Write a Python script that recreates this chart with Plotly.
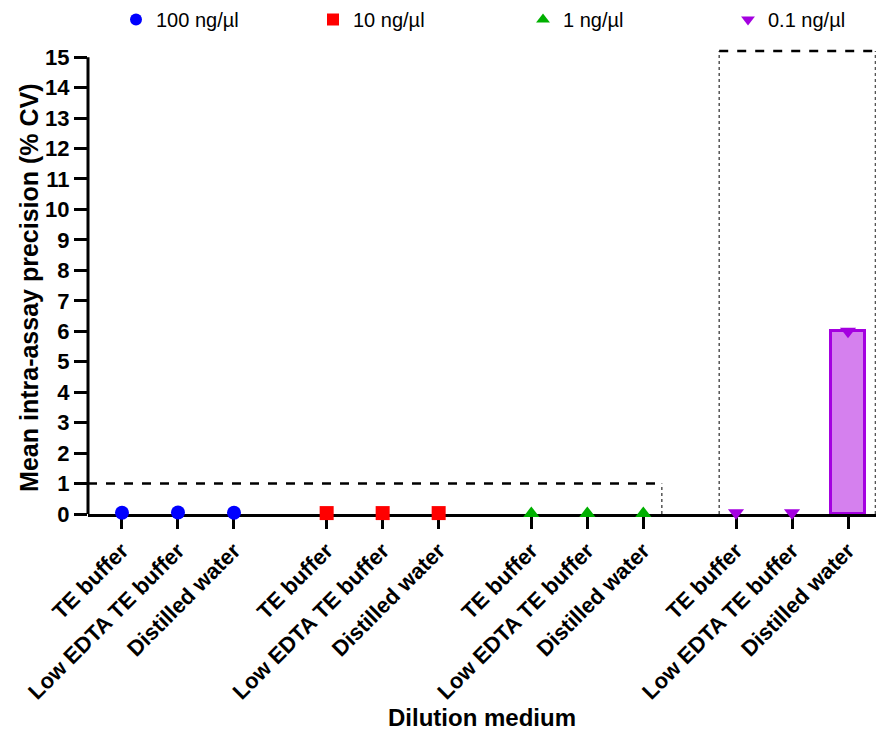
import plotly.graph_objects as go

# Concentration groups and dilution media
concentrations = ["100 ng/µl", "10 ng/µl", "1 ng/µl", "0.1 ng/µl"]
media = ["TE buffer", "Low EDTA TE buffer", "Distilled water"]

# Mean intra-assay precision (% CV) per concentration, in media order
cv_100 = [0.04, 0.05, 0.04]
cv_10 = [0.03, 0.03, 0.03]
cv_1 = [0.02, 0.02, 0.02]
cv_01 = [0.04, 0.04, 6.0]
series_values = [cv_100, cv_10, cv_1, cv_01]

# Acceptance limits (% CV) drawn as dashed reference boxes
limit_high_conc = 1.0
limit_low_conc = 15.2

y_ticks = list(range(0, 16))

colors = ["#0000FF", "#FF0000", "#00B000", "#A400E0"]
symbols = ["circle", "square", "triangle-up", "triangle-down"]
bar_fill = "#D580EE"

GROUP_STRIDE = 3.655
font_family = "Liberation Sans, Arial, sans-serif"

# Left edge (px) of each legend entry across the top strip
legend_left_px = [116, 313, 523, 728]


def positions(g):
    return [g * GROUP_STRIDE + i for i in range(len(media))]


fig = go.Figure()

# Bars for the visible (non-zero) means of the lowest concentration
pos_low = positions(3)
bar_y = [v if v >= 1 else None for v in cv_01]
fig.add_trace(go.Bar(
    x=pos_low, y=bar_y, width=0.62,
    marker=dict(color=bar_fill, line=dict(color=colors[3], width=3)),
    showlegend=False, hoverinfo="skip",
))

legend_ids = ["legend", "legend2", "legend3", "legend4"]
for g, (name, vals) in enumerate(zip(concentrations, series_values)):
    fig.add_trace(go.Scatter(
        x=positions(g), y=vals, mode="markers", name=name,
        legend=legend_ids[g],
        marker=dict(symbol=symbols[g], color=colors[g], size=14, line=dict(width=0)),
        cliponaxis=False,
    ))

all_pos = [p for g in range(len(concentrations)) for p in positions(g)]
all_text = media * len(concentrations)

x_lo = -0.607
x_hi = all_pos[-1] + 0.5

# Reference limit outlines
box1_right = positions(2)[-1] + 0.33
box2_left = positions(3)[0] - 0.3
shapes = [
    dict(type="line", xref="x", yref="y", x0=x_lo, x1=box1_right, y0=limit_high_conc, y1=limit_high_conc,
         line=dict(color="black", width=2.5, dash="dash")),
    dict(type="line", xref="x", yref="y", x0=box1_right, x1=box1_right, y0=0, y1=limit_high_conc,
         line=dict(color="#555", width=1.5, dash="dot")),
    dict(type="line", xref="x", yref="y", x0=box2_left, x1=box2_left, y0=0, y1=limit_low_conc,
         line=dict(color="#555", width=1.5, dash="dot")),
    dict(type="line", xref="x", yref="y", x0=x_hi - 0.01, x1=x_hi - 0.01, y0=0, y1=limit_low_conc,
         line=dict(color="#555", width=1.5, dash="dot")),
    dict(type="line", xref="x", yref="y", x0=box2_left, x1=x_hi, y0=limit_low_conc, y1=limit_low_conc,
         line=dict(color="black", width=2.5, dash="dash")),
    # y axis line spanning the tick range only
    dict(type="line", xref="paper", yref="y", x0=0, x1=0, y0=0, y1=y_ticks[-1],
         line=dict(color="black", width=3)),
]

legend_style = dict(
    orientation="h", xref="container", xanchor="left",
    yref="container", y=1.0, yanchor="top",
    font=dict(size=20, family=font_family),
    itemsizing="constant", bgcolor="rgba(0,0,0,0)",
)
legend_layout = {
    lid: dict(legend_style, x=px / 877) for lid, px in zip(legend_ids, legend_left_px)
}

fig.update_layout(
    width=877, height=731,
    margin=dict(l=88, r=1, t=48, b=217),
    plot_bgcolor="white", paper_bgcolor="white",
    font=dict(family=font_family, color="black"),
    shapes=shapes,
    bargap=0,
    **legend_layout,
    annotations=[dict(
        text="Mean intra-assay precision (% CV)", textangle=-90,
        xref="paper", yref="paper", x=-0.075, y=0.485,
        xanchor="center", yanchor="middle", showarrow=False,
        font=dict(size=25, weight="bold", family=font_family),
    )],
    xaxis=dict(
        range=[x_lo, x_hi], showgrid=False, zeroline=False,
        showline=True, linecolor="black", linewidth=3,
        ticks="outside", ticklen=12, tickwidth=3, tickcolor="black",
        tickvals=all_pos, ticktext=all_text, tickangle=-45,
        tickfont=dict(size=22, weight="bold", family=font_family),
        title=dict(text="Dilution medium", font=dict(size=24, weight="bold", family=font_family)),
        layer="below traces", automargin=False,
    ),
    yaxis=dict(
        range=[0, 15.3], showgrid=False, zeroline=False, showline=False,
        ticks="outside", ticklen=13, tickwidth=3, tickcolor="black",
        tickvals=y_ticks,
        tickfont=dict(size=22, weight="bold", family=font_family),
        automargin=False,
    ),
)

fig.write_html("out.html")
